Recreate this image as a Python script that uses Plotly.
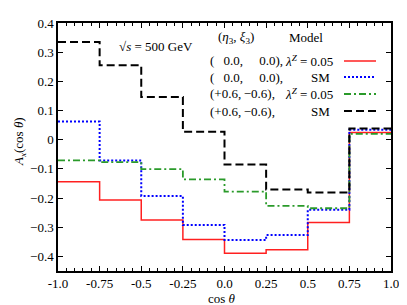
import plotly.graph_objects as go

bin_edges = [-1.0, -0.75, -0.5, -0.25, 0.0, 0.25, 0.5, 0.75, 1.0]
red_lam = [-0.144, -0.207, -0.275, -0.342, -0.389, -0.377, -0.284, 0.025]
blue_sm = [0.062, -0.071, -0.193, -0.292, -0.344, -0.327, -0.240, 0.034]
green_lam = [-0.071, -0.077, -0.101, -0.136, -0.178, -0.227, -0.235, 0.020]
black_sm = [0.335, 0.255, 0.146, 0.027, -0.085, -0.171, -0.181, 0.038]

x_ticks = [-1.0, -0.75, -0.5, -0.25, 0.0, 0.25, 0.5, 0.75, 1.0]
x_ticktext = ["-1.0", "-0.75", "-0.5", "-0.25", "0.0", "0.25", "0.5", "0.75", "1.0"]
y_ticks = [0.4, 0.3, 0.2, 0.1, 0.0, -0.1, -0.2, -0.3, -0.4]
y_ticktext = ["0.4", "0.3", "0.2", "0.1", "0", "\u22120.1", "\u22120.2", "\u22120.3", "\u22120.4"]

legend_left = ["(\u2002\u20090.0,\u2002\u2002 0.0),", "(\u2002\u20090.0,\u2002\u2002 0.0),",
               "(+0.6,\u2009\u22120.6),", "(+0.6,\u2009\u22120.6),"]
legend_model = ["<i>\u03bb</i><sup><i>Z</i></sup> = 0.05", "SM", "<i>\u03bb</i><sup><i>Z</i></sup> = 0.05", "SM"]

series = [
    (red_lam, "#ff2020", "solid", 1.5),
    (blue_sm, "#0000ff", "2px,2px", 2),
    (green_lam, "#2a9a2a", "7px,3px,2px,3px", 1.8),
    (black_sm, "#000000", "8px,4px", 2),
]

FONT = "Liberation Serif"
FS = 13
L, R, T, B = 50, 24, 15, 42
PW, PH = 407 - L - R, 305 - T - B

fig = go.Figure()
for vals, col, dash, w in series:
    fig.add_trace(go.Scatter(
        x=bin_edges, y=vals + [vals[-1]], mode="lines", line_shape="hv",
        line=dict(color=col, dash=dash, width=w), showlegend=False))

ann = []
ann.append(dict(x=228, y=30, text="(<i>\u03b7</i><sub>3</sub>, <i>\u03be</i><sub>3</sub>)"))
ann.append(dict(x=298, y=30, text="Model"))
row_y = [53, 69, 86, 103]
shapes = []
for i, (yy, (vals, col, dash, w)) in enumerate(zip(row_y, series)):
    ann.append(dict(x=200, y=yy, text=legend_left[i], xanchor="left"))
    if legend_model[i] == "SM":
        ann.append(dict(x=312, y=yy, text="SM"))
    else:
        ann.append(dict(x=275, y=yy, text=legend_model[i], xanchor="left"))
    shapes.append(dict(type="line", xref="paper", yref="paper",
                       x0=(336 - L) / PW, x1=(368 - L) / PW,
                       y0=(305 - B - yy) / PH, y1=(305 - B - yy) / PH,
                       line=dict(color=col, dash=dash, width=w)))
ann.append(dict(x=148, y=38, text="\u221a<i>s</i> = 500 GeV"))
ann.append(dict(x=214, y=290, text="cos <i>\u03b8</i>"))
ann.append(dict(x=11, y=134, text="<i>A</i><sub><i>x</i></sub>(cos <i>\u03b8</i>)", textangle=-90))

annotations = []
for a in ann:
    annotations.append(dict(xref="paper", yref="paper", x=(a["x"] - L) / PW, y=(305 - B - a["y"]) / PH,
                            text=a["text"], showarrow=False, xanchor=a.get("xanchor", "center"),
                            yanchor="middle", textangle=a.get("textangle", 0),
                            font=dict(family=FONT, size=FS, color="black")))

fig.update_layout(
    width=407, height=305,
    margin=dict(l=L, r=R, t=T, b=B),
    paper_bgcolor="white", plot_bgcolor="white",
    font=dict(family=FONT, size=FS, color="black"),
    annotations=annotations, shapes=shapes,
    xaxis=dict(range=[-1, 1], tickvals=x_ticks, ticktext=x_ticktext, automargin=False,
               ticks="inside", ticklen=5, tickcolor="black", showgrid=False, zeroline=False,
               showline=True, linecolor="black", linewidth=1.5, mirror="ticks",
               minor=dict(dtick=0.05, ticks="inside", ticklen=3, tickcolor="black", showgrid=False)),
    yaxis=dict(range=[-0.45, 0.4], tickvals=y_ticks, ticktext=y_ticktext, automargin=False,
               ticks="inside", ticklen=5, tickcolor="black", showgrid=False, zeroline=False,
               showline=True, linecolor="black", linewidth=1.5, mirror="ticks"),
)
fig.write_html("out.html")
